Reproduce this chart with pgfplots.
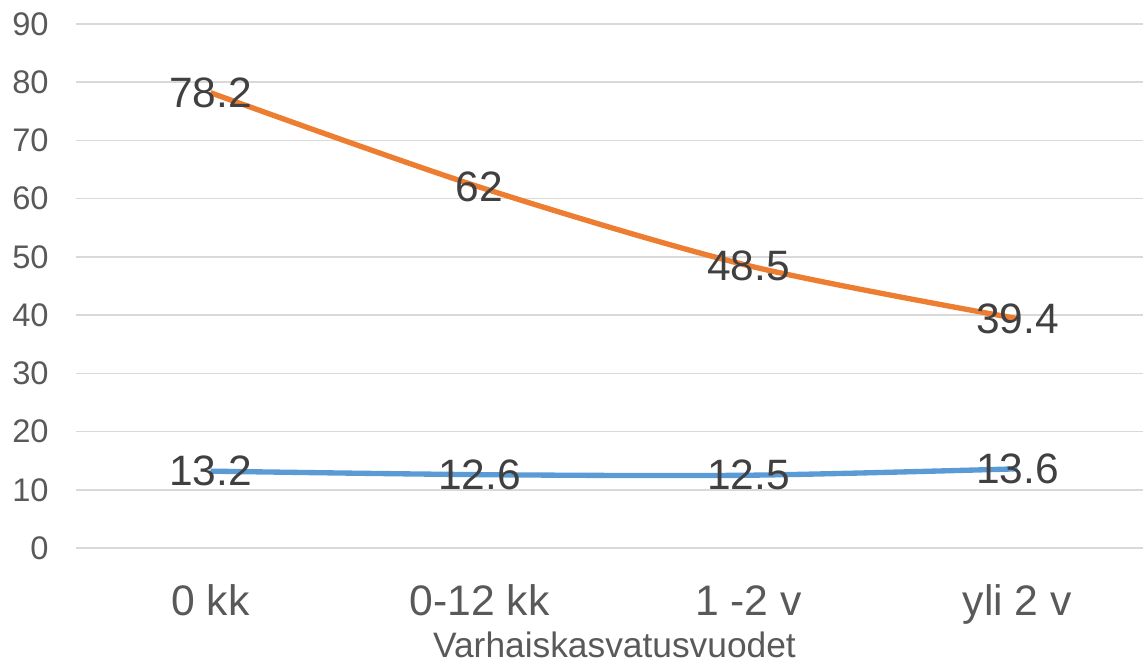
\documentclass[border=0pt]{standalone}
\usepackage{pgfplots}
\pgfplotsset{compat=1.18}
\usepackage{fontspec}
\setmainfont{Liberation Sans}
\definecolor{orangeS}{HTML}{ED7D31}
\definecolor{blueS}{HTML}{5B9BD5}
\definecolor{gridc}{HTML}{D9D9D9}
\definecolor{tickc}{HTML}{595959}
\definecolor{labc}{HTML}{404040}
\begin{document}
\begin{tikzpicture}
\begin{axis}[
  scale only axis,
  width=640.2pt, height=314.4pt,
  xmin=-0.5, xmax=3.467,
  ymin=0, ymax=90,
  ytick={0,10,...,90},
  xtick={0,1,2,3},
  xticklabels={0 kk, 0-12 kk, 1 -2 v, yli 2 v},
  axis line style={draw=none},
  major tick length=0pt,
  ymajorgrids,
  major grid style={draw=gridc, line width=0.9pt},
  /pgf/number format/assume math mode=true,
  yticklabel style={font=\fontsize{19.6}{22}\selectfont, text=tickc, anchor=east, inner sep=0pt, xshift=-16.2pt},
  xticklabel style={font=\fontsize{25.6}{30}\selectfont, text=tickc, anchor=base, inner sep=0pt, yshift=-40.2pt},
  xlabel={Varhaiskasvatusvuodet},
  xlabel style={font=\fontsize{21.2}{25}\selectfont, text=tickc, at={(axis description cs:0.5,0)}, anchor=base, inner sep=0pt, yshift=-65.4pt, xshift=3pt},
  clip=false,
  nodes near coords,
  every node near coord/.append style={anchor=center, font=\fontsize{25.5}{30}\selectfont, text=labc, inner sep=0pt},
]
\addplot[blueS, line width=3.2pt, smooth, mark=none] coordinates {(0,13.2) (1,12.6) (2,12.5) (3,13.6)};
\addplot[orangeS, line width=3.2pt, smooth, mark=none] coordinates {(0,78.2) (1,62) (2,48.5) (3,39.4)};
\end{axis}
\pgfresetboundingbox
\path (current axis.south west) ++(-45.6pt,-68.4pt) rectangle ++(685.8pt,397.2pt);
\end{tikzpicture}
\end{document}
